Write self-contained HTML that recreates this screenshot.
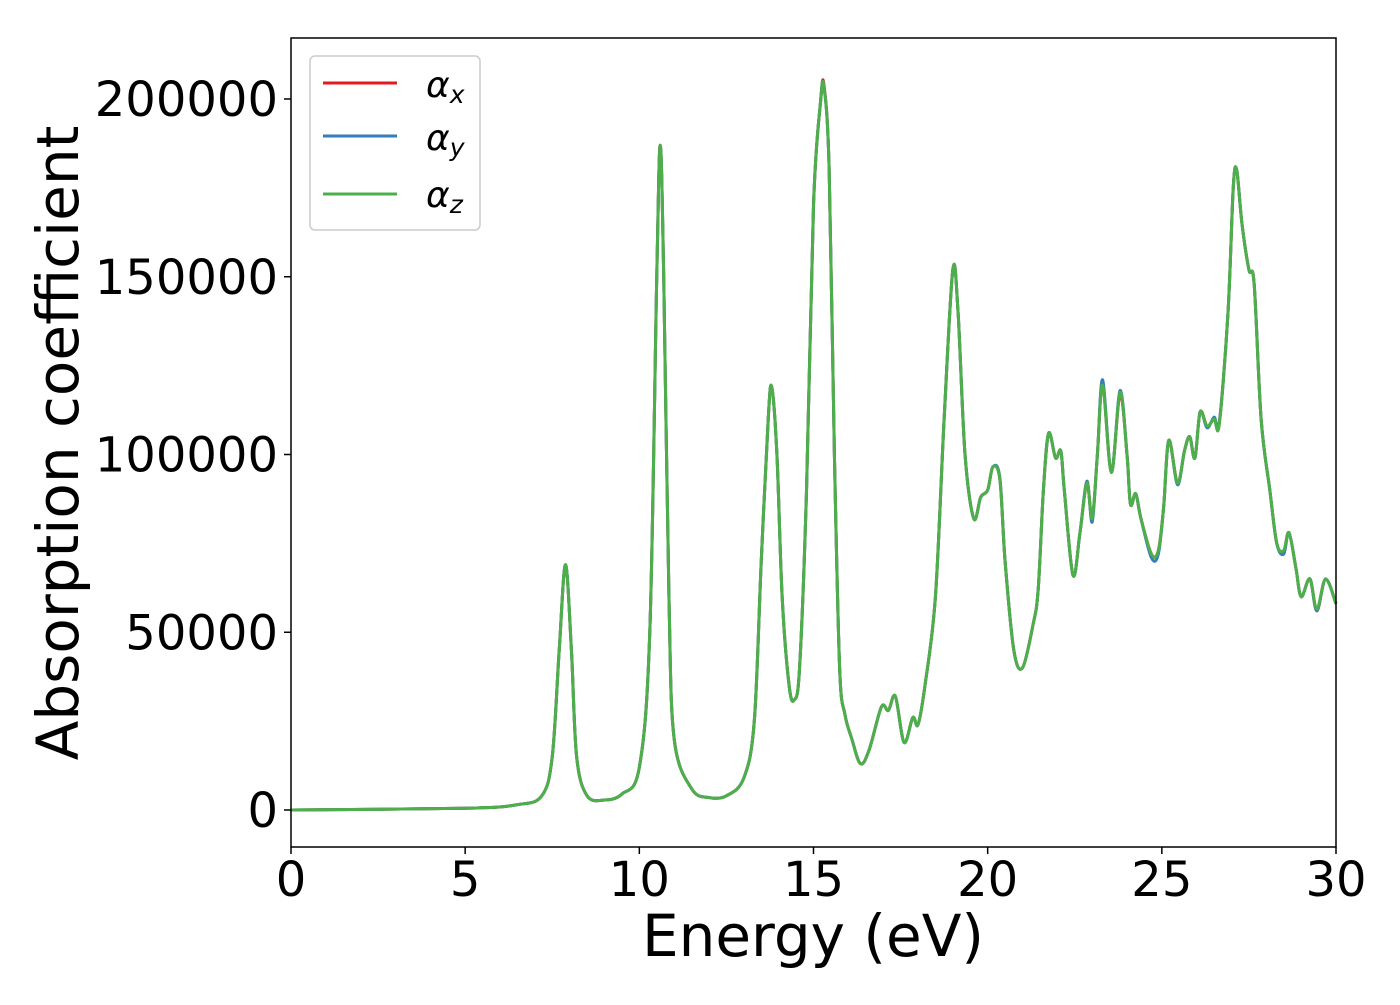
<!DOCTYPE html>
<html><head><meta charset="utf-8"><style>
body{margin:0;background:#fff;}
svg text{font-family:"DejaVu Sans","Liberation Sans",sans-serif;fill:#000;}
</style></head><body>
<svg id="chart" width="1400" height="1000" xmlns="http://www.w3.org/2000/svg">
<rect width="1400" height="1000" fill="#fff"/>
<g id="series"></g>
<rect x="291" y="38" width="1045" height="809" fill="none" stroke="#000" stroke-width="1.5"/>
<g id="xticks"></g>
<g id="yticks"></g>
<text x="813" y="956" font-size="58" text-anchor="middle">Energy (eV)</text>
<text transform="translate(78,443) rotate(-90)" font-size="58" text-anchor="middle">Absorption coefficient</text>
<g>
<rect x="310" y="56" width="170" height="174" rx="5" fill="#fff" fill-opacity="0.8" stroke="#ccc" stroke-width="1.5"/>
<line x1="323" y1="83" x2="397" y2="83" stroke="#e41a1c" stroke-width="3"/>
<text x="426" y="97" font-size="36" font-style="italic">α<tspan font-size="25" dy="6">x</tspan></text>
<line x1="323" y1="136" x2="397" y2="136" stroke="#377eb8" stroke-width="3"/>
<text x="426" y="150" font-size="36" font-style="italic">α<tspan font-size="25" dy="6">y</tspan></text>
<line x1="323" y1="194" x2="397" y2="194" stroke="#4daf4a" stroke-width="3"/>
<text x="426" y="207" font-size="36" font-style="italic">α<tspan font-size="25" dy="6">z</tspan></text>
</g>
</svg>
<script>
const energies=[0,5,6.5,7.2,7.5,7.7,7.88,8.05,8.2,8.5,9.0,9.5,10.0,10.3,10.5,10.6,10.7,10.85,11.0,11.5,12.0,12.5,13.0,13.3,13.5,13.7,13.8,13.95,14.1,14.3,14.45,14.6,14.8,15.0,15.2,15.3,15.45,15.6,15.75,15.9,16.1,16.35,16.6,16.95,17.15,17.35,17.6,17.85,18.0,18.2,18.5,18.75,19.0,19.15,19.35,19.6,19.8,20.0,20.15,20.35,20.5,20.75,21.0,21.3,21.45,21.6,21.75,21.95,22.1,22.2,22.45,22.65,22.85,23.0,23.15,23.3,23.55,23.8,24.0,24.1,24.25,24.4,24.7,24.9,25.05,25.2,25.45,25.65,25.8,25.95,26.1,26.3,26.5,26.65,26.9,27.05,27.15,27.3,27.5,27.65,27.85,28.1,28.3,28.5,28.65,28.85,29.0,29.25,29.45,29.7,30];
const alphaX=[0,500,1500,4000,15000,45000,69000,45000,15000,4000,2800,4500,12000,50000,150000,187000,150000,60000,20000,6000,3500,4000,9000,25000,70000,110000,119000,100000,60000,35000,31000,40000,90000,170000,199000,204000,180000,100000,40000,27000,20000,13000,17000,29000,28000,32000,19000,26000,24000,35000,60000,110000,152000,140000,100000,82000,88000,90000,96500,93000,70000,45000,40000,52000,62000,90000,106000,99000,101000,90000,66000,78000,92000,82000,100000,120000,95000,117000,100000,86000,89000,82000,72000,73000,85000,104000,92000,101000,105000,99000,112000,108000,110000,109000,140000,175000,180000,165000,152000,148000,110000,90000,75000,73000,78000,68000,60000,65000,56000,65000,58000];
const alphaY=[0,500,1500,4000,15000,45000,69000,45000,15000,4000,2800,4500,12000,50000,150000,187000,150000,60000,20000,6000,3500,4000,9000,25000,70000,110000,119000,100000,60000,35000,31000,40000,90000,170000,199000,203500,180000,100000,40000,27000,20000,13000,17000,29000,28000,32000,19000,26000,24000,35000,60000,110000,152000,140000,100000,82000,88000,90000,96500,93500,70000,45000,40000,52000,62000,90000,106000,99000,101000,90000,66000,78000,92500,81000,100000,121000,95000,118000,100000,86000,89000,82000,71000,72000,85000,104000,91500,101000,105000,99000,112000,107500,110500,109000,140000,175000,180000,165000,152000,148000,110000,90000,75000,72000,78000,68000,60000,65000,56000,65000,58000];
const alphaZ=[0,500,1500,4000,15000,45000,69000,45000,15000,4000,2800,4500,12000,50000,150000,187000,150000,60000,20000,6000,3500,4000,9000,25000,70000,110000,119000,100000,60000,35000,31000,40000,90000,170000,199000,203500,180000,100000,40000,27000,20000,13000,17000,29000,28000,32000,19000,26000,24000,35000,60000,110000,152000,140000,100000,82000,88000,90000,96500,93000,70000,45000,40000,52000,62000,90000,106000,99000,101000,90000,66000,78000,92000,82000,100000,119500,95000,117500,100000,86000,89000,82000,72000,73000,85000,104000,92000,101000,105000,99000,112000,108000,110000,108500,140000,175000,180000,165000,152000,148000,110000,90000,75000,73000,78000,68000,60000,65000,56500,65000,58000];
const xTicks=[0,5,10,15,20,25,30];
const yTicks=[0,50000,100000,150000,200000];
const seriesColors=["#e41a1c","#377eb8","#4daf4a"];
const seriesNames=["alpha-x","alpha-y","alpha-z"];
const NS="http://www.w3.org/2000/svg";
function xs(v){return 291+(v-0)/30*1045;}
function ys(v){return 810-v/200000*711;}
function smoothPath(xv,yv){
  const p=xv.map((e,i)=>[xs(e),ys(yv[i])]);
  let d="M"+p[0][0].toFixed(2)+","+p[0][1].toFixed(2);
  for(let i=0;i<p.length-1;i++){
    const p0=p[Math.max(0,i-1)],p1=p[i],p2=p[i+1],p3=p[Math.min(p.length-1,i+2)];
    const c1x=p1[0]+(p2[0]-p0[0])/6,c1y=p1[1]+(p2[1]-p0[1])/6;
    const c2x=p2[0]-(p3[0]-p1[0])/6,c2y=p2[1]-(p3[1]-p1[1])/6;
    d+="C"+c1x.toFixed(2)+","+c1y.toFixed(2)+" "+c2x.toFixed(2)+","+c2y.toFixed(2)+" "+p2[0].toFixed(2)+","+p2[1].toFixed(2);
  }
  return d;
}
const sg=document.getElementById("series");
[alphaX,alphaY,alphaZ].forEach((vals,k)=>{
  const path=document.createElementNS(NS,"path");
  path.setAttribute("d",smoothPath(energies,vals));
  path.setAttribute("fill","none");
  path.setAttribute("stroke",seriesColors[k]);
  path.setAttribute("stroke-width","3");
  path.setAttribute("stroke-linejoin","round");
  
  
  sg.appendChild(path);
});
const xg=document.getElementById("xticks");
xTicks.forEach(t=>{
  const l=document.createElementNS(NS,"line");
  l.setAttribute("x1",xs(t));l.setAttribute("x2",xs(t));
  l.setAttribute("y1",847);l.setAttribute("y2",854);
  l.setAttribute("stroke","#000");l.setAttribute("stroke-width","1.5");
  
  
  xg.appendChild(l);
  const tx=document.createElementNS(NS,"text");
  tx.setAttribute("x",xs(t));tx.setAttribute("y",896);
  tx.setAttribute("font-size","48");tx.setAttribute("text-anchor","middle");
  tx.textContent=t;
  
  
  xg.appendChild(tx);
});
const yg=document.getElementById("yticks");
yTicks.forEach(t=>{
  const l=document.createElementNS(NS,"line");
  l.setAttribute("x1",284);l.setAttribute("x2",291);
  l.setAttribute("y1",ys(t));l.setAttribute("y2",ys(t));
  l.setAttribute("stroke","#000");l.setAttribute("stroke-width","1.5");
  
  
  yg.appendChild(l);
  const tx=document.createElementNS(NS,"text");
  tx.setAttribute("x",278);tx.setAttribute("y",ys(t)+17);
  tx.setAttribute("font-size","48");tx.setAttribute("text-anchor","end");
  tx.textContent=t;
  
  
  yg.appendChild(tx);
});
</script>
</body></html>
